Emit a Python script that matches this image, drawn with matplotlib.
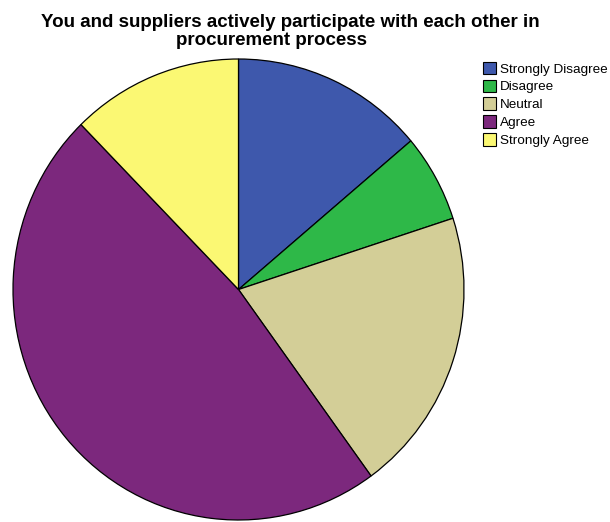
import matplotlib.pyplot as plt

categories = ["Strongly Disagree", "Disagree", "Neutral", "Agree", "Strongly Agree"]
counts = [18, 8, 26, 62, 16]
colours = ["#3E58AC", "#2EB848", "#D3CE97", "#7C287D", "#FBF873"]

fig = plt.figure(figsize=(6.10, 5.22), dpi=100)
ax = fig.add_axes([13 / 610, 2 / 522, 451 / 610, 461 / 522])

wedges, _ = ax.pie(counts, colors=colours, startangle=90, counterclock=False,
                   wedgeprops=dict(edgecolor="black", linewidth=0.9))
ax.set_aspect("auto")
ax.set_xlim(-1, 1)
ax.set_ylim(-1, 1)
ax.axis("off")

title_font = dict(ha="center", va="baseline", fontsize=13.5, fontweight="bold",
                  family="Liberation Sans")
fig.text(290 / 610, 1 - 27 / 522,
         "You and suppliers actively participate with each other in", **title_font)
fig.text(272 / 610, 1 - 45 / 522, "procurement process", **title_font)

leg = fig.legend(wedges, categories, loc="upper left",
                 bbox_to_anchor=(480 / 610, 1 - 59 / 522), frameon=False,
                 prop=dict(family="Liberation Sans", size=9.7),
                 handlelength=1.0, handleheight=1.05, handletextpad=0.25,
                 labelspacing=0.3, borderpad=0.2, borderaxespad=0)
for h in leg.legend_handles:
    h.set_edgecolor("black")
    h.set_linewidth(0.8)

fig.savefig("out.png", dpi=100)
